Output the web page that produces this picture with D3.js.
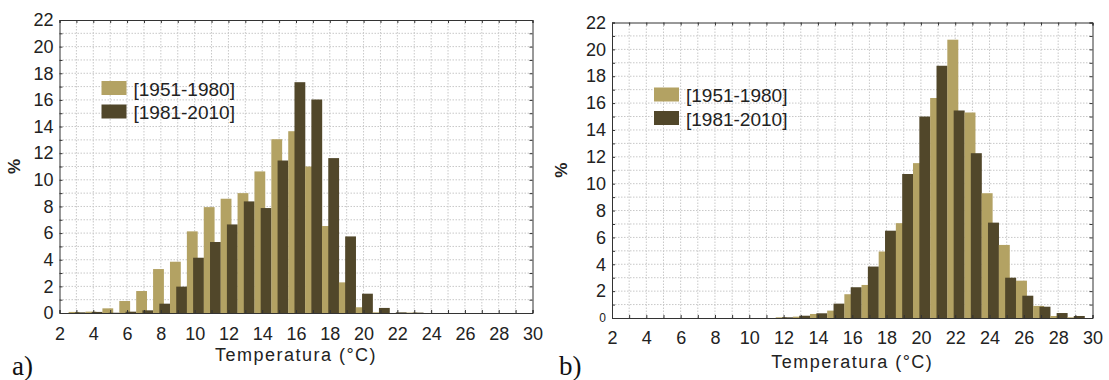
<!DOCTYPE html>
<html>
<head>
  <meta charset="utf-8">
  <title>Temperatura histogram</title>
  <script src="https://cdn.jsdelivr.net/npm/d3@7"></script>
  <style>
    body { margin: 0; background: #fff; }
    text { font-family: "Liberation Sans", Arial, sans-serif; fill: #222; }
    text.tag { font-family: "Liberation Serif", "Times New Roman", serif; fill: #111; }
  </style>
</head>
<body>
  <script>
    // Data (percent per 1 °C bin)
    const xTicks = [2, 4, 6, 8, 10, 12, 14, 16, 18, 20, 22, 24, 26, 28, 30];
    const yTicks = [0, 2, 4, 6, 8, 10, 12, 14, 16, 18, 20, 22];
    const seriesNames = ["[1951-1980]", "[1981-2010]"];

    // panel a)
    const tempsA = [3, 4, 5, 6, 7, 8, 9, 10, 11, 12, 13, 14, 15, 16, 17, 18, 19, 20, 21, 22, 23];
    const a1951 = [0.08, 0.1, 0.35, 0.9, 1.65, 3.3, 3.85, 6.13, 7.95, 8.58, 9.0, 10.63, 13.05, 13.65, 11.0, 6.53, 2.3, 0.43, 0.05, 0, 0.03];
    const a1981 = [0.05, 0.08, 0.02, 0.1, 0.2, 0.7, 1.98, 4.15, 5.33, 6.65, 8.38, 7.88, 11.45, 17.33, 16.03, 11.63, 5.75, 1.45, 0.38, 0.05, 0.03];

    // panel b)
    const tempsB = [12, 13, 14, 15, 16, 17, 18, 19, 20, 21, 22, 23, 24, 25, 26, 27, 28, 29];
    const b1951 = [0.05, 0.1, 0.3, 0.55, 1.77, 2.46, 4.95, 7.06, 11.53, 16.38, 20.72, 15.3, 9.29, 5.44, 2.78, 0.9, 0.15, 0.05];
    const b1981 = [0.05, 0.17, 0.35, 1.07, 2.29, 3.83, 6.5, 10.72, 15.0, 18.78, 15.45, 12.27, 7.1, 3.0, 1.66, 0.84, 0.37, 0.15];

    const lightCol = "#b3a263";
    const darkCol = "#51472a";

    const svg = d3.select("body").append("svg")
      .attr("width", 1109)
      .attr("height", 380);

    function panel(p) {
      const x = d3.scaleLinear().domain([2, 30]).range([p.left, p.right]);
      const y = d3.scaleLinear().domain([0, 22]).range([p.bottom, p.top]);
      const g = svg.append("g");
      const units = d3.range(2, 31);
      const yunits = d3.range(0, 23);

      // dotted grid every 1 unit
      g.append("g").selectAll("line").data(units.slice(1, -1)).join("line")
        .attr("x1", d => x(d)).attr("x2", d => x(d))
        .attr("y1", p.top).attr("y2", p.bottom)
        .attr("stroke", "#c8c8c8").attr("stroke-dasharray", "1.5,1.5");
      g.append("g").selectAll("line").data(yunits.slice(1, -1)).join("line")
        .attr("y1", d => y(d)).attr("y2", d => y(d))
        .attr("x1", p.left).attr("x2", p.right)
        .attr("stroke", "#c8c8c8").attr("stroke-dasharray", "1.5,1.5");

      // bars: light then dark for each bin
      const bw = 0.64;
      p.temps.forEach((t, i) => {
        g.append("rect")
          .attr("x", x(t - 0.46)).attr("width", x(t - 0.46 + bw) - x(t - 0.46))
          .attr("y", y(p.s1[i])).attr("height", y(0) - y(p.s1[i]))
          .attr("fill", lightCol);
        g.append("rect")
          .attr("x", x(t - 0.09)).attr("width", x(t - 0.09 + bw) - x(t - 0.09))
          .attr("y", y(p.s2[i])).attr("height", y(0) - y(p.s2[i]))
          .attr("fill", darkCol);
      });

      // small inward ticks on all four sides
      const tick = 3;
      g.append("g").attr("transform", `translate(0,${p.bottom})`)
        .call(d3.axisBottom(x).tickValues(units).tickSize(-tick).tickFormat(""));
      g.append("g").attr("transform", `translate(0,${p.top})`)
        .call(d3.axisTop(x).tickValues(units).tickSize(-tick).tickFormat(""));
      g.append("g").attr("transform", `translate(${p.left},0)`)
        .call(d3.axisLeft(y).tickValues(yunits).tickSize(-tick).tickFormat(""));
      g.append("g").attr("transform", `translate(${p.right},0)`)
        .call(d3.axisRight(y).tickValues(yunits).tickSize(-tick).tickFormat(""));
      g.selectAll(".domain").attr("stroke", "#333");
      g.selectAll(".tick line").attr("stroke", "#333");

      // labels
      const xl = g.append("g").attr("transform", `translate(0,${p.bottom})`)
        .call(d3.axisBottom(x).tickValues(xTicks).tickSize(0).tickPadding(p.xpad));
      const yl = g.append("g").attr("transform", `translate(${p.left},0)`)
        .call(d3.axisLeft(y).tickValues(yTicks).tickSize(0).tickPadding(6));
      [xl, yl].forEach(a => {
        a.select(".domain").remove();
        a.selectAll("text").attr("font-size", 18).attr("font-family", null).attr("fill", "#222");
      });
      if (p.smallZero) {
        yl.selectAll("text").filter(d => d === 0).attr("font-size", 12);
      }

      g.append("text")
        .attr("x", (p.left + p.right) / 2).attr("y", p.titleY)
        .attr("text-anchor", "middle").attr("font-size", 18)
        .attr("letter-spacing", 1.5)
        .text("Temperatura (°C)");

      g.append("text")
        .attr("transform", `translate(${p.pctX},${(p.top + p.bottom) / 2}) rotate(-90)`)
        .attr("text-anchor", "middle").attr("font-size", 17).attr("font-weight", "bold")
        .text("%");

      g.append("text")
        .attr("class", "tag")
        .attr("x", p.tagX).attr("y", 375)
        .attr("font-size", 27)
        .text(p.tag);

      // legend
      const lg = g.append("g").attr("transform", `translate(${p.legX},${p.legY})`);
      [lightCol, darkCol].forEach((c, i) => {
        lg.append("rect").attr("x", 0).attr("y", i * 23.5).attr("width", 25).attr("height", 14).attr("fill", c);
        lg.append("text").attr("x", 32).attr("y", i * 23.5 + 14.5)
          .attr("font-size", 19).text(seriesNames[i]);
      });
    }

    panel({
      left: 59.5, right: 532.5, top: 20, bottom: 313,
      temps: tempsA, s1: a1951, s2: a1981,
      xpad: 14, titleY: 361, pctX: 20, tag: "a)", tagX: 12,
      legX: 101.5, legY: 81, smallZero: false
    });

    panel({
      left: 612, right: 1092.5, top: 22.5, bottom: 318,
      temps: tempsB, s1: b1951, s2: b1981,
      xpad: 13.5, titleY: 368, pctX: 567, tag: "b)", tagX: 559,
      legX: 654, legY: 87.5, smallZero: true
    });
  </script>
</body>
</html>
